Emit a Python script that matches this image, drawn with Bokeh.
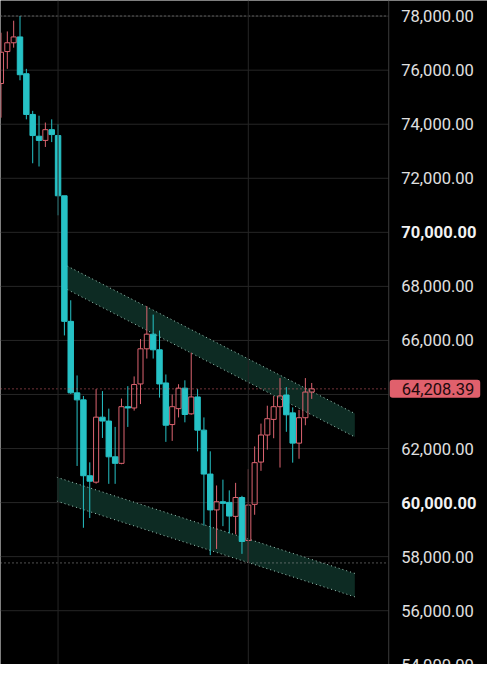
from bokeh.plotting import figure
from bokeh.models import Range1d, Span, ColumnDataSource
from bokeh.core.properties import value
from bokeh.embed import file_html
from bokeh.resources import INLINE

# ---- data (candles, index = candle number) ----
opens = [75507, 76689, 77014, 77230, 75868, 74362, 73556, 73401, 73798, 73581,
         71352, 66706, 64061, 63801, 60994, 60755, 63161, 63017, 61694, 61452,
         63548, 63501, 64390, 65690, 66232, 65654, 64426, 62887, 63476, 64234,
         63284, 63909, 62681, 61055, 59729, 60032, 60007, 59490, 60188, 58598,
         59935, 61499, 62500, 63078, 63548, 63982, 63320, 62200, 63140, 64090]
highs = [77386, 77433, 77830, 78005, 76049, 74495, 74315, 74062, 74181, 74000,
         71352, 67486, 64704, 63945, 61489, 64198, 64126, 63476, 62800, 63848,
         64307, 64668, 66052, 67269, 66955, 66366, 64740, 64000, 64379, 64524,
         65546, 64198, 63151, 61897, 60633, 60849, 60452, 60730, 60250, 61236,
         62078, 62923, 63584, 63945, 64607, 64271, 63523, 63429, 64607, 64426]
lows = [74242, 76049, 76833, 75626, 74181, 72555, 72436, 73159, 73339, 70629,
        66185, 64020, 61355, 59068, 59429, 60700, 62392, 60694, 60694, 61420,
        62800, 63403, 63646, 65329, 65329, 63884, 62247, 62283, 63151, 62970,
        63250, 61897, 59151, 58056, 58284, 59129, 58862, 58826, 58103, 57767,
        59549, 61174, 61958, 62381, 61296, 62619, 61478, 61622, 62862, 63837]
closes = [76663, 77014, 77230, 75832, 74362, 73581, 73401, 73798, 73617, 71352,
          66706, 64061, 63801, 60994, 60791, 63161, 63017, 61694, 61452, 63548,
          63501, 64368, 65690, 66232, 65654, 64390, 62862, 63548, 64234, 63259,
          63909, 62681, 61055, 59729, 60032, 59971, 59501, 60188, 58562, 59909,
          61478, 62500, 63103, 63548, 63945, 63248, 62200, 63140, 64090, 64208.39]

price_ticks = [54000, 56000, 58000, 60000, 62000, 64000, 66000, 68000,
               70000, 72000, 74000, 76000, 78000]
bold_ticks = [60000, 70000]

upper_band_x = [10.46, 55.8]
upper_band_top = [68751, 63295]
upper_band_bottom = [67884, 62428]
lower_band_x = [8.82, 55.8]
lower_band_top = [60936, 57380]
lower_band_bottom = [60054, 56513]

vgrid_idx = [9, 39]

# ---- layout / styling constants ----
TEAL = "#26c2c6"
PINK = "#dc6470"
BAND_FILL = "#0d2b23"
BAND_LINE = "#9fcabb"
GRID = "#262626"
X0, X1 = -0.076, 76.72        # full canvas in candle-index units
Y0, Y1 = 54009, 78578
AXIS_X = 61.145               # price-scale separator
LABEL_X = 63.13               # price label column
TAG_X = 61.30                 # left edge of the last-price tag
FONT = value("Roboto")
FSIZE = value("16.5px")

p = figure(width=487, height=664,
           x_range=Range1d(X0, X1), y_range=Range1d(Y0, Y1),
           output_backend="svg", toolbar_location=None,
           x_axis_location=None, y_axis_location=None,
           background_fill_color="black", border_fill_color="black",
           outline_line_color=None,
           min_border_left=0, min_border_top=0, min_border_bottom=0,
           min_border_right=0)
p.grid.visible = False

# ---- grid ----
p.segment(x0=X0, x1=AXIS_X, y0=price_ticks, y1=price_ticks,
          line_color=GRID, line_width=1)
for g in vgrid_idx:
    p.add_layout(Span(location=g, dimension="height", line_color=GRID, line_width=1))

# ---- channel bands ----
for bx, bt, bb in [(upper_band_x, upper_band_top, upper_band_bottom),
                   (lower_band_x, lower_band_top, lower_band_bottom)]:
    p.patch(x=[bx[0], bx[1], bx[1], bx[0]], y=[bt[0], bt[1], bb[1], bb[0]],
            fill_color=BAND_FILL, line_color=None)
    p.line(bx, bt, line_color=BAND_LINE, line_width=1, line_dash="1 3")
    p.line(bx, bb, line_color=BAND_LINE, line_width=1, line_dash="1 3")

# ---- candles ----
idx = list(range(len(opens)))
body_top = [max(o, c) for o, c in zip(opens, closes)]
body_bot = [min(o, c) for o, c in zip(opens, closes)]
colors = [PINK if c >= o else TEAL for o, c in zip(opens, closes)]
src = ColumnDataSource(dict(x=idx, h=highs, l=lows, bt=body_top, bb=body_bot, col=colors))
p.segment(x0="x", y0="h", x1="x", y1="bt", line_color="col", line_width=1, source=src)
p.segment(x0="x", y0="bb", x1="x", y1="l", line_color="col", line_width=1, source=src)

up = [i for i in idx if closes[i] >= opens[i]]
dn = [i for i in idx if closes[i] < opens[i]]
p.vbar(x=up, top=[body_top[i] for i in up], bottom=[body_bot[i] for i in up],
       width=0.8, fill_alpha=0, line_color=PINK, line_width=1)
p.vbar(x=dn, top=[body_top[i] for i in dn], bottom=[body_bot[i] for i in dn],
       width=0.86, fill_color=TEAL, line_color=TEAL, line_width=1)

# ---- high / low / last markers ----
p.segment(x0=X0, x1=AXIS_X, y0=max(highs), y1=max(highs),
          line_color="#a0a0a0", line_width=1, line_dash="1 3")
p.segment(x0=X0, x1=AXIS_X, y0=min(lows), y1=min(lows),
          line_color="#a0a0a0", line_width=1, line_dash="1 3")
p.segment(x0=X0, x1=AXIS_X, y0=closes[-1], y1=closes[-1],
          line_color=PINK, line_width=1, line_dash="1 3")

# ---- price scale ----
p.add_layout(Span(location=AXIS_X, dimension="height", line_color="#3c3c3c", line_width=1))
last = closes[-1]
normal = [t for t in price_ticks if t not in bold_ticks and abs(t - last) > 700]
p.text(x=[LABEL_X] * len(normal), y=normal, text=[f"{t:,.2f}" for t in normal],
       text_align="left", text_baseline="middle", text_font=FONT,
       text_font_size=FSIZE, text_color="#e0e0e0")
p.text(x=[LABEL_X] * len(bold_ticks), y=bold_ticks, text=[f"{t:,.2f}" for t in bold_ticks],
       text_align="left", text_baseline="middle", text_font=FONT,
       text_font_size=FSIZE, text_font_style="bold", text_color="#f2f2f2")

p.text(x=[TAG_X], y=[last], text=[f"{last:,.2f}"],
       text_align="left", text_baseline="middle", text_font=FONT,
       text_font_size=FSIZE, text_color="#1e0a0c",
       background_fill_color="#e0606c",
       padding=dict(left=12, right=6, top=3, bottom=3), border_radius=3)

open("out.html", "w").write(file_html(p, INLINE))
